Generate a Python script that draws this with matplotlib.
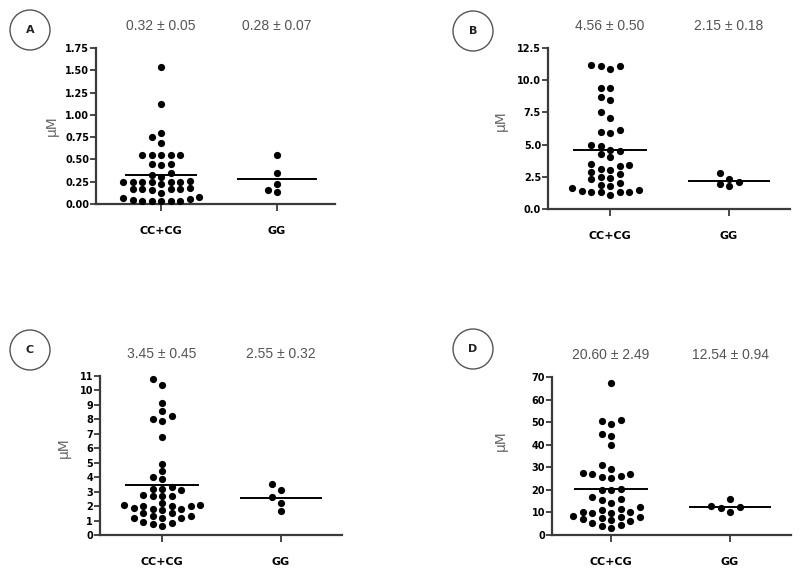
import matplotlib
matplotlib.use("Agg")
import matplotlib.pyplot as plt
import numpy as np
from matplotlib.patches import Ellipse

# ---------------- data ----------------
groups = ["CC+CG", "GG"]
panel_letters = ["A", "B", "C", "D"]

a_ccg = [1.54, 1.12, 0.80, 0.75, 0.68, 0.55, 0.55, 0.55, 0.55, 0.55,
         0.45, 0.45, 0.44, 0.35, 0.33, 0.30, 0.26, 0.25, 0.25, 0.25,
         0.25, 0.25, 0.25, 0.22, 0.18, 0.17, 0.17, 0.17, 0.17, 0.16,
         0.12, 0.08, 0.07, 0.06, 0.04, 0.03, 0.03, 0.03, 0.03, 0.03]
a_gg = [0.55, 0.345, 0.225, 0.14, 0.16]

b_ccg = [11.2, 11.1, 10.9, 11.1, 9.4, 9.4, 8.7, 8.5, 7.1, 7.5,
         6.0, 5.9, 6.1, 4.9, 5.0, 4.6, 4.3, 4.0, 4.5, 3.4,
         3.1, 2.9, 3.0, 3.3, 3.5, 2.7, 2.4, 2.0, 2.3, 2.5,
         1.5, 1.3, 1.3, 1.3, 1.6, 1.3, 1.4, 1.1, 1.9, 1.8]
b_gg = [2.8, 2.1, 1.77, 1.97, 2.36]

c_ccg = [10.8, 10.4, 9.1, 8.6, 8.0, 7.9, 8.2, 6.8, 4.9, 4.4,
         3.9, 4.0, 3.2, 3.1, 3.2, 3.3, 2.7, 2.8, 2.7, 2.7,
         1.8, 2.0, 2.2, 2.0, 2.1, 2.0, 1.9, 2.1, 1.3, 1.5,
         1.3, 1.5, 1.7, 1.8, 1.2, 1.2, 0.85, 0.6, 0.75, 0.9, 1.2]
c_gg = [3.5, 3.1, 2.65, 2.19, 1.68]

d_ccg = [67.2, 51.1, 49.1, 50.3, 44.8, 44.0, 39.7, 31.2, 29.3, 26.9,
         26.0, 25.2, 25.6, 27.1, 27.4, 20.0, 20.0, 20.3, 17.0, 15.5,
         14.1, 16.0, 12.6, 10.1, 9.6, 11.1, 9.9, 10.4, 11.4, 8.1,
         8.5, 7.1, 6.2, 7.4, 7.8, 4.4, 3.3, 4.1, 5.5, 6.7]
d_gg = [16.0, 12.6, 10.4, 11.8, 12.9]

means = {"A": [0.32, 0.28], "B": [4.56, 2.15], "C": [3.45, 2.55], "D": [20.60, 12.54]}
sems = {"A": [0.05, 0.07], "B": [0.50, 0.18], "C": [0.45, 0.32], "D": [2.49, 0.94]}
yticks = {"A": [0, 0.25, 0.5, 0.75, 1.0, 1.25, 1.5, 1.75],
          "B": [0, 2.5, 5.0, 7.5, 10.0, 12.5],
          "C": list(range(0, 12)),
          "D": list(range(0, 80, 10))}
yfmt = {"A": "{:.2f}", "B": "{:.1f}", "C": "{:.0f}", "D": "{:.0f}"}
values = {"A": [a_ccg, a_gg], "B": [b_ccg, b_gg], "C": [c_ccg, c_gg], "D": [d_ccg, d_gg]}

# ---------------- layout (pixels) ----------------
W, H = 800, 575
layout = {
    "A": dict(l=96, r=335, b=204, t=48, x0=161, x1=277, lab=(-0.155, 0.5), circ=(30, 30)),
    "B": dict(l=548, r=790, b=209, t=48, x0=610, x1=729, lab=(-0.165, 0.55), circ=(473, 31)),
    "C": dict(l=100, r=342, b=535, t=376, x0=162, x1=281, lab=(-0.12, 0.55), circ=(30, 350)),
    "D": dict(l=552, r=791, b=535, t=377, x0=611, x1=730, lab=(-0.184, 0.60), circ=(473, 349)),
}

fig = plt.figure(figsize=(W / 100, H / 100), dpi=100)
plt.rcParams['font.family'] = ['DejaVu Sans']

spine_col = "#3a3a3a"


def swarm(ax, xc, vals, spacing=9.5, mind=6.9):
    trans = ax.transData
    vals = np.asarray(vals, dtype=float)
    ys = trans.transform(np.column_stack([np.full(len(vals), xc), vals]))[:, 1]
    ppu = trans.transform((1, 0))[0] - trans.transform((0, 0))[0]
    order = np.argsort(ys)
    placed = []
    offs = np.zeros(len(vals))
    cands = [0]
    for k in range(1, 25):
        cands += [-k, k]
    for i in order:
        for c in cands:
            x = c * spacing
            if all((x - px) ** 2 + (ys[i] - py) ** 2 >= mind ** 2 for px, py in placed):
                break
        placed.append((x, ys[i]))
        offs[i] = x
    return xc + offs / ppu


for key in panel_letters:
    L = layout[key]
    unit = (L["x1"] - L["x0"])
    xmin = -(L["x0"] - L["l"]) / unit
    xmax = 1 + (L["r"] - L["x1"]) / unit
    ax = fig.add_axes([L["l"] / W, 1 - L["b"] / H, (L["r"] - L["l"]) / W, (L["b"] - L["t"]) / H])
    ax.set_xlim(xmin, xmax)
    yt = yticks[key]
    ax.set_ylim(yt[0], yt[-1])
    ax.set_yticks(yt)
    ax.set_yticklabels([yfmt[key].format(v) for v in yt])
    ax.set_xticks([0, 1])
    ax.set_xticklabels(groups)
    for s in ["top", "right"]:
        ax.spines[s].set_visible(False)
    for s in ["left", "bottom"]:
        ax.spines[s].set_color(spine_col)
        ax.spines[s].set_linewidth(1.6)
    ax.tick_params(axis="y", direction="out", length=4, width=1.3, color=spine_col,
                   labelsize=7, pad=1)
    ax.tick_params(axis="x", direction="out", length=5, width=1.3, color=spine_col,
                   labelsize=8, pad=11)
    for lab in ax.get_yticklabels() + ax.get_xticklabels():
        lab.set_fontweight("bold")
    ax.set_ylabel("µM", fontsize=10, color="#666666")
    ax.yaxis.set_label_coords(*L["lab"])

    for gi, vals in enumerate(values[key]):
        xs = swarm(ax, gi, vals)
        ax.plot(xs, vals, "o", color="black", markersize=5.2, markeredgewidth=0,
                clip_on=False, zorder=3)
        hw = 0.30 if gi == 0 else 0.34
        ax.plot([gi - hw, gi + hw], [means[key][gi]] * 2, color="black", lw=1.4, zorder=2)
        ax.annotate(f"{means[key][gi]:.2f} ± {sems[key][gi]:.2f}",
                    xy=(gi, 1), xycoords=("data", "axes fraction"),
                    xytext=(0, 16), textcoords="offset points",
                    ha="center", va="center", fontsize=10, color="#555555",
                    family=["Liberation Sans", "DejaVu Sans"])

    cx, cy = L["circ"]
    fig.add_artist(Ellipse((cx / W, 1 - cy / H), 40 / W, 40 / H, transform=fig.transFigure,
                           facecolor="white", edgecolor="#555555", lw=1.0))
    fig.text(cx / W, 1 - cy / H, key, ha="center", va="center", fontsize=8,
             fontweight="bold", color="#222222")

fig.savefig("out.png", dpi=100)
